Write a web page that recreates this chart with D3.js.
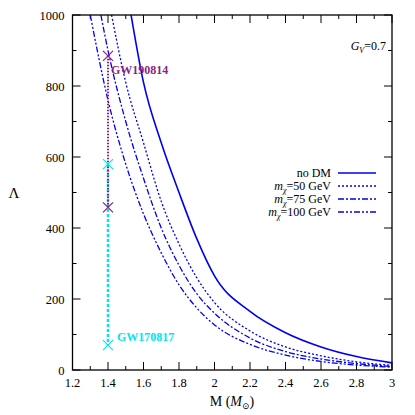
<!DOCTYPE html><html><head><meta charset="utf-8"><script src="https://cdn.jsdelivr.net/npm/d3@7"></script>
<style>body{margin:0;background:#fff}text{font-family:"Liberation Serif","DejaVu Serif",serif}</style></head><body><svg id="c" width="415" height="415"></svg><script>
const noDM=[[1.53,1000],[1.6,810],[1.7,640],[1.8,500],[1.9,370],[2.0,265],[2.2,165],[2.4,105],[2.6,65],[2.8,38],[3.0,20]];
const m50=[[1.42,1000],[1.5,810],[1.6,640],[1.7,475],[1.8,355],[1.9,260],[2.0,190],[2.2,110],[2.4,65],[2.6,40],[2.8,23],[3.0,13]];
const m75=[[1.36,1000],[1.4,900],[1.5,700],[1.6,540],[1.7,400],[1.8,295],[1.9,215],[2.0,160],[2.2,90],[2.4,52],[2.6,31],[2.8,18],[3.0,10]];
const m100=[[1.30,1000],[1.4,760],[1.5,580],[1.6,440],[1.7,330],[1.8,240],[1.9,175],[2.0,127],[2.2,72],[2.4,42],[2.6,24],[2.8,14],[3.0,8]];
const gw190814=[885,458], gw170817=[580,70], gwM=1.4;
const xTicks=[1.2,1.4,1.6,1.8,2,2.2,2.4,2.6,2.8,3], yTicks=[0,200,400,600,800,1000];
const series=[{d:noDM,dash:null,name:"no DM"},{d:m50,dash:"2,2",name:"=50 GeV"},{d:m75,dash:"6,2,2,2",name:"=75 GeV"},{d:m100,dash:"6,2,2,2,2,2",name:"=100 GeV"}];
const svg=d3.select("#c"),L=72.5,R=392,T=15,B=370,blue="#0000f0";
const x=d3.scaleLinear([1.2,3],[L,R]),y=d3.scaleLinear([0,1000],[B,T]);
const g=svg.append("g");
d3.range(1.2,3.001,0.1).forEach((v,i)=>{const len=i%2?4:8;[B,T].forEach((p,j)=>g.append("line").attr("x1",x(v)).attr("x2",x(v)).attr("y1",p).attr("y2",j?p+len:p-len).attr("stroke","#000"));});
d3.range(0,1001,100).forEach((v,i)=>{const len=i%2?4:8;[L,R].forEach((p,j)=>g.append("line").attr("y1",y(v)).attr("y2",y(v)).attr("x1",p).attr("x2",j?p-len:p+len).attr("stroke","#000"));});
xTicks.forEach(v=>g.append("text").attr("x",x(v)).attr("y",B+17).attr("text-anchor","middle").attr("font-size",12.5).text(v===2||v===3?String(v):v.toFixed(1)));
yTicks.forEach(v=>g.append("text").attr("x",L-8).attr("y",y(v)+4.5).attr("text-anchor","end").attr("font-size",12.5).text(v));
const line=d3.line().x(d=>x(d[0])).y(d=>y(d[1])).curve(d3.curveMonotoneX);
series.forEach(s=>g.append("path").attr("d",line(s.d)).attr("fill","none").attr("stroke",blue).attr("stroke-width",s.dash?1.3:1.6).attr("stroke-dasharray",s.dash));
const purple="#8b1f7f",cyan="#00e5ee";
g.append("line").attr("x1",x(gwM)).attr("x2",x(gwM)).attr("y1",y(gw170817[0])).attr("y2",y(gw170817[1])).attr("stroke",cyan).attr("stroke-width",2.5).attr("stroke-dasharray","3,2");
g.append("line").attr("x1",x(gwM)).attr("x2",x(gwM)).attr("y1",y(gw190814[0])).attr("y2",y(gw190814[1])).attr("stroke",purple).attr("stroke-width",2).attr("stroke-dasharray","1.5,1.5");
function cross(v,c){const cx=x(gwM),cy=y(v);g.append("path").attr("d",`M${cx-5},${cy-5}L${cx+5},${cy+5}M${cx-5},${cy+5}L${cx+5},${cy-5}`).attr("stroke",c).attr("stroke-width",1.2);}
gw190814.forEach(v=>cross(v,purple));gw170817.forEach(v=>cross(v,cyan));
g.append("text").attr("x",x(gwM)+3).attr("y",y(gw190814[0])+18).attr("fill",purple).attr("font-weight","bold").attr("font-size",12).text("GW190814");
g.append("text").attr("x",x(gwM)+9).attr("y",y(gw170817[1])-4).attr("fill",cyan).attr("font-weight","bold").attr("font-size",12).text("GW170817");
series.forEach((s,i)=>{const ly=173+i*13;
 const t=g.append("text").attr("x",331).attr("y",ly+4).attr("text-anchor","end").attr("font-size",12);
 if(i===0)t.text(s.name);else{t.append("tspan").attr("font-style","italic").text("m");t.append("tspan").attr("font-style","italic").attr("font-size",8).attr("dy",2.5).text("χ");t.append("tspan").attr("dy",-2.5).text(s.name);}
 g.append("line").attr("x1",338).attr("x2",376).attr("y1",ly).attr("y2",ly).attr("stroke",blue).attr("stroke-width",1.5).attr("stroke-dasharray",s.dash);});
const gv=g.append("text").attr("x",386).attr("y",50).attr("text-anchor","end").attr("font-size",12);
gv.append("tspan").attr("font-style","italic").text("G");gv.append("tspan").attr("font-size",8).attr("dy",3).attr("font-style","italic").text("V");gv.append("tspan").attr("dy",-3).text("=0.7");
g.append("rect").attr("x",L).attr("y",T).attr("width",R-L).attr("height",B-T).attr("fill","none").attr("stroke","#000").attr("stroke-width",1.3);
g.append("text").attr("x",14).attr("y",198).attr("font-size",15).attr("text-anchor","middle").text("Λ");
const xl=g.append("text").attr("x",232).attr("y",406).attr("font-size",14).attr("text-anchor","middle");
xl.append("tspan").text("M (");xl.append("tspan").attr("font-style","italic").text("M");xl.append("tspan").attr("font-size",9).attr("dy",3).text("⊙");xl.append("tspan").attr("dy",-3).text(")");
</script></body></html>
